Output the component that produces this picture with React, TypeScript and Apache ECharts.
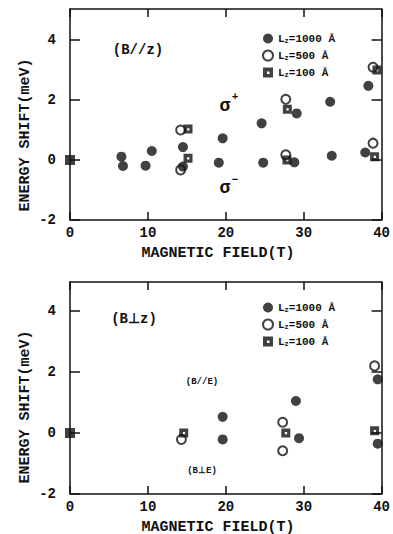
import React, { useEffect, useRef } from "react";
import * as echarts from "echarts";

// Panel (B//z)
const parL1000: number[][] = [[6.6, 0.11], [6.8, -0.2], [9.7, -0.19], [10.5, 0.3], [14.5, 0.43], [14.5, -0.22], [19.6, 0.72], [19.1, -0.09], [24.6, 1.22], [24.8, -0.09], [29.1, 1.55], [28.8, -0.08], [33.4, 1.94], [33.6, 0.14], [38.3, 2.47], [37.9, 0.25]];
const parL500: number[][] = [[14.2, 1.0], [14.2, -0.33], [27.7, 2.02], [27.7, 0.17], [38.9, 3.09], [38.9, 0.56]];
const parL100: number[][] = [[0, 0], [15.15, 1.03], [15.15, 0.06], [27.9, 1.69], [27.85, 0.0], [39.4, 3.0], [39.1, 0.11]];

// Panel (B⊥z)
const perL1000: number[][] = [[19.6, 0.53], [19.6, -0.21], [29.0, 1.05], [29.4, -0.17], [39.5, 1.76], [39.5, -0.35]];
const perL500: number[][] = [[14.3, -0.21], [27.3, 0.35], [27.3, -0.58], [39.1, 2.2]];
const perL100: number[][] = [[0, 0], [14.6, 0], [27.7, 0], [39.1, 0.07]];

const seriesNames = ["L1000", "L500", "L100"];
const legendLabels: Record<string, string> = {
  L1000: "{a|L}{s|z}{a|=1000 Å}",
  L500: "{a|L}{s|z}{a|=500 Å}",
  L100: "{a|L}{s|z}{a|=100 Å}",
};
const xTicks = [0, 10, 20, 30, 40];
const yTicks = [-2, 0, 2, 4];

const FONT = "Liberation Mono";
const SQUARE = "path://M0,0H10V10H0ZM4,4V6.5H6.5V4Z";

export default function App() {
  const ref = useRef<HTMLDivElement>(null);
  useEffect(() => {
    if (!ref.current) return;
    const chart = echarts.init(ref.current, null, { renderer: "svg" });
    const axisLine = { show: true, onZero: false, lineStyle: { color: "#111", width: 1.5 } };
    const tickLabel = { fontFamily: FONT, fontWeight: "bold", fontSize: 14, color: "#111" };
    const mkX = (gi: number, pos: "bottom" | "top") => ({
      type: "value", gridIndex: gi, position: pos, min: 0, max: 40, interval: 10,
      axisLine, splitLine: { show: false },
      axisTick: { show: true, inside: true, length: 8, lineStyle: { color: "#111", width: 1.5 } },
      axisLabel: pos === "bottom" ? { ...tickLabel, margin: 6, customValues: xTicks } : { show: false },
    });
    const mkY = (gi: number, pos: "left" | "right", max: number) => ({
      type: "value", gridIndex: gi, position: pos, min: -2, max, interval: 2,
      axisLine, splitLine: { show: false },
      axisTick: { show: true, inside: true, length: 10, customValues: yTicks, lineStyle: { color: "#111", width: 1.5 } },
      axisLabel: pos === "left" ? { ...tickLabel, margin: 14, customValues: yTicks } : { show: false },
    });
    const filled = { color: "#111" };
    const open = { color: "rgba(255,255,255,0)", borderColor: "#111", borderWidth: 2 };
    const sq = { color: "#111" };
    const sqData = (arr: number[][]) => arr.map((p) => (p[0] === 0 ? { value: p, symbol: "rect", symbolSize: 10 } : p));
    const mkSeries = (gi: number, a: number[][], b: number[][], c: number[][]) => [
      { type: "scatter", name: "L1000", xAxisIndex: gi * 2, yAxisIndex: gi * 2, data: a, symbol: "circle", symbolSize: 10, itemStyle: filled },
      { type: "scatter", name: "L500", xAxisIndex: gi * 2, yAxisIndex: gi * 2, data: b, symbol: "circle", symbolSize: 9, itemStyle: open },
      { type: "scatter", name: "L100", xAxisIndex: gi * 2, yAxisIndex: gi * 2, data: sqData(c), symbol: SQUARE, symbolSize: 9, itemStyle: sq },
    ];
    const mkLegend = (top: number) => ({
      orient: "vertical", left: 257, top, itemWidth: 10, itemHeight: 10, itemGap: 5.5,
      data: seriesNames, selectedMode: false,
      formatter: (n: string) => legendLabels[n],
      textStyle: {
        rich: {
          a: { fontFamily: FONT, fontWeight: "bold", fontSize: 11, color: "#111" },
          s: { fontFamily: FONT, fontWeight: "bold", fontSize: 7, color: "#111", verticalAlign: "bottom", padding: [4, 0, 0, 0] },
        },
      },
    });
    const txt = (text: string, x: number, y: number, size: number, extra: any = {}) => ({
      type: "text", x, y, ...extra,
      style: { text, fill: "#111", fontFamily: FONT, fontWeight: "bold", fontSize: size, align: "center", verticalAlign: "middle" },
    });
    chart.setOption({
      animation: false,
      backgroundColor: "#fff",
      grid: [
        { left: 70, top: 9, width: 315, height: 211 },
        { left: 70, top: 282, width: 317, height: 212 },
      ],
      xAxis: [mkX(0, "bottom"), mkX(0, "top"), mkX(1, "bottom"), mkX(1, "top")],
      yAxis: [mkY(0, "left", 5.03), mkY(0, "right", 5.03), mkY(1, "left", 4.95), mkY(1, "right", 4.95)],
      legend: [mkLegend(28), mkLegend(297)],
      series: [...mkSeries(0, parL1000, parL500, parL100), ...mkSeries(1, perL1000, perL500, perL100)],
      graphic: [
        txt("ENERGY SHIFT(meV)", 25, 135, 15, { rotation: Math.PI / 2 }),
        txt("ENERGY SHIFT(meV)", 25, 407, 15, { rotation: Math.PI / 2 }),
        txt("MAGNETIC FIELD(T)", 218, 253, 15),
        txt("MAGNETIC FIELD(T)", 218, 527, 15),
        txt("(B//z)", 138, 50, 14),
        txt("σ", 225, 106, 18),
        txt("+", 235, 97, 11),
        txt("σ", 225, 188, 18),
        txt("−", 235, 180, 11),
        txt("(B⊥z)", 134, 319, 14),
        txt("(B//E)", 202, 382, 9),
        txt("(B⊥E)", 202, 471, 9),
      ],
    });
    return () => chart.dispose();
  }, []);
  return <div ref={ref} style={{ position: "fixed", left: 0, top: 0, width: 393, height: 534 }} />;
}
